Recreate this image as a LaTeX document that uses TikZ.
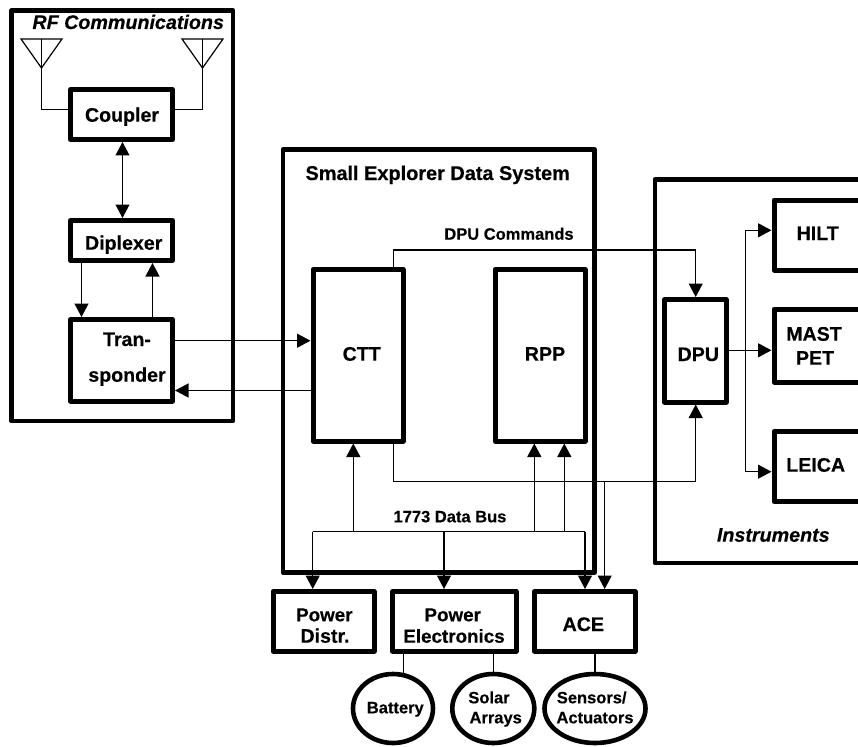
\documentclass[tikz,border=0pt]{standalone}
\usepackage{fontspec}
\setmainfont[BoldFeatures={FakeBold=0.35},BoldItalicFeatures={FakeBold=0.35}]{Liberation Sans}
\usetikzlibrary{arrows.meta,shapes.geometric}
\tikzset{
  thickbox/.style={draw=black,line width=4.6pt,line join=round,rectangle,inner sep=0pt},
  blockbox/.style={draw=black,line width=5pt,line join=round,rectangle,inner sep=0pt},
  round block/.style={draw=black,line width=4.6pt,ellipse,inner sep=0pt,fill=white},
  wire/.style={draw=black,line width=1.2pt},
  arr/.style={wire,-{Triangle[length=13.5pt,width=14pt]}},
  biarr/.style={wire,{Triangle[length=13.5pt,width=14pt]}-{Triangle[length=13.5pt,width=14pt]}},
  lab/.style={anchor=base,inner sep=0pt,font=\bfseries\fontsize{19.6}{22}\selectfont},
  mlab/.style={anchor=base,inner sep=0pt,font=\bfseries\fontsize{18.8}{22}\selectfont},
  tlab/.style={anchor=base,inner sep=0pt,font=\bfseries\fontsize{19.9}{22}\selectfont},
  ilab/.style={anchor=base,inner sep=0pt,font=\bfseries\itshape\fontsize{19.7}{22}\selectfont},
  slab/.style={anchor=base,inner sep=0pt,font=\bfseries\fontsize{16.5}{19}\selectfont}
}
\begin{document}
\begin{tikzpicture}[x=1pt,y=-1pt]
\useasboundingbox (0,0) rectangle (858,746);
\clip (0,0) rectangle (858,746);
% containers
\node[thickbox,minimum width=221.5pt,minimum height=410.5pt] (rf) at (122.25,215.75) {};
\node[thickbox,minimum width=311.5pt,minimum height=423pt] (sds) at (438.75,361) {};
\node[thickbox,minimum width=235pt,minimum height=383.5pt] (inst) at (772.5,371.25) {};
% blocks
\node[blockbox,minimum width=102pt,minimum height=50pt] (coupler) at (121.5,114.5) {};
\node[blockbox,minimum width=102pt,minimum height=40pt] (diplexer) at (121.5,240.5) {};
\node[blockbox,minimum width=102pt,minimum height=81.5pt] (transp) at (121.5,360.25) {};
\node[blockbox,minimum width=90pt,minimum height=171.5pt] (ctt) at (358,355.25) {};
\node[blockbox,minimum width=90pt,minimum height=171.5pt] (rpp) at (540,355.25) {};
\node[blockbox,minimum width=61.5pt,minimum height=102.5pt] (dpu) at (695.25,350.75) {};
\node[blockbox,minimum width=126pt,minimum height=70pt] (hilt) at (837,235) {};
\node[blockbox,minimum width=126pt,minimum height=73pt] (mast) at (837,345.5) {};
\node[blockbox,minimum width=126pt,minimum height=70pt] (leica) at (837,466.5) {};
\node[blockbox,minimum width=101pt,minimum height=59.5pt] (pdist) at (323.5,621.25) {};
\node[blockbox,minimum width=123.5pt,minimum height=59.5pt] (pelec) at (454.25,621.25) {};
\node[blockbox,minimum width=100.5pt,minimum height=59.5pt] (ace) at (584.75,621.25) {};
\node[round block,minimum width=80pt,minimum height=69pt] (battery) at (393,708.5) {};
\node[round block,minimum width=82pt,minimum height=69pt] (solar) at (493.3,708.5) {};
\node[round block,minimum width=101pt,minimum height=69pt] (sensors) at (595,708.5) {};
% routing coordinates
\coordinate (antLa) at (21,39);
\coordinate (antLb) at (62,39);
\coordinate (antLt) at (41.5,68);
\coordinate (antLm) at (41.5,39);
\coordinate (antRa) at (182,39);
\coordinate (antRb) at (223,39);
\coordinate (antRt) at (202.5,68);
\coordinate (antRm) at (202.5,39);
\coordinate (yfeed) at (0,109.5);
\coordinate (xcd) at (122.5,0);
\coordinate (xdn) at (81.5,0);
\coordinate (xup) at (152.5,0);
\coordinate (ytx) at (0,340.7);
\coordinate (yrx) at (0,390.5);
\coordinate (xcmd) at (393.3,0);
\coordinate (xdpu) at (695.7,0);
\coordinate (ycmd) at (0,250);
\coordinate (yret) at (0,481.7);
\coordinate (xace) at (604.7,0);
\coordinate (ybus) at (0,531.7);
\coordinate (xb1) at (312.7,0);
\coordinate (xb2) at (353.3,0);
\coordinate (xb3) at (444,0);
\coordinate (xb4) at (534.3,0);
\coordinate (xb5) at (564.3,0);
\coordinate (xb6) at (585,0);
\coordinate (xbr) at (745.7,0);
\coordinate (yh) at (0,230.3);
\coordinate (ym) at (0,350.3);
\coordinate (yl) at (0,471.7);
% antennas
\draw[wire,line join=miter] (antLa) -- (antLb) -- (antLt) -- cycle;
\draw[wire] (antLm) -- (antLt);
\draw[wire,line join=miter] (antRa) -- (antRb) -- (antRt) -- cycle;
\draw[wire] (antRm) -- (antRt);
\draw[wire] (antLt) |- (coupler.west |- yfeed);
\draw[wire] (antRt) |- (coupler.east |- yfeed);
% RF
\draw[biarr] (coupler.south -| xcd) -- (diplexer.north -| xcd);
\draw[arr] (diplexer.south -| xdn) -- (transp.north -| xdn);
\draw[arr] (transp.north -| xup) -- (diplexer.south -| xup);
\draw[arr] (transp.east |- ytx) -- (ctt.west |- ytx);
\draw[arr] (ctt.west |- yrx) -- (transp.east |- yrx);
% commands and return
\draw[arr] (ctt.north -| xcmd) |- (xdpu |- ycmd) -- (dpu.north -| xdpu);
\draw[arr] (ctt.south -| xcmd) |- (xdpu |- yret) -- (dpu.south -| xdpu);
\draw[arr] (xace |- yret) -- (ace.north -| xace);
% bus
\draw[wire] (xb1 |- ybus) -- (xb6 |- ybus);
\draw[arr] (xb1 |- ybus) -- (pdist.north -| xb1);
\draw[arr] (xb2 |- ybus) -- (ctt.south -| xb2);
\draw[arr] (xb3 |- ybus) -- (pelec.north -| xb3);
\draw[arr] (xb4 |- ybus) -- (rpp.south -| xb4);
\draw[arr] (xb5 |- ybus) -- (rpp.south -| xb5);
\draw[arr] (xb6 |- ybus) -- (ace.north -| xb6);
% instruments
\draw[arr] (dpu.east |- ym) -- (mast.west |- ym);
\draw[arr] (xbr |- ym) |- (hilt.west |- yh);
\draw[arr] (xbr |- ym) |- (leica.west |- yl);
% lower stubs
\draw[wire] (pelec.south -| battery.73) -- (battery.73);
\draw[wire] (pelec.south -| solar.north) -- (solar.north);
\draw[wire] (ace.south -| sensors.north) -- (sensors.north);
% labels
\node[ilab] (trf) at (128.2,29) {RF Communications};
\node[lab] (tcoupler) at (122,121.7) {Coupler};
\node[lab] (tdiplexer) at (123.7,249.7) {Diplexer};
\node[lab] (ttran) at (127,346) {Tran-};
\node[lab] (tsponder) at (127,381.7) {sponder};
\node[tlab] (tsds) at (437.7,180) {Small Explorer Data System};
\node[slab] (tcmd) at (509,239.7) {DPU Commands};
\node[lab] (tctt) at (361.7,360.7) {CTT};
\node[lab] (trpp) at (545,360.7) {RPP};
\node[slab] (tbus) at (450,522.3) {1773 Data Bus};
\node[lab] (tdpu) at (698.3,361) {DPU};
\node[lab] (thilt) at (817.7,240) {HILT};
\node[lab] (tmast) at (814,340.7) {MAST};
\node[lab] (tpet) at (815,364.7) {PET};
\node[lab] (tleica) at (815.7,471.7) {LEICA};
\node[ilab] (tinst) at (773.3,541.7) {Instruments};
\node[mlab] (tpow) at (324.3,621.3) {Power};
\node[lab] (tdistr) at (325,642.7) {Distr.};
\node[mlab] (tpow2) at (452.7,621.3) {Power};
\node[mlab] (telec) at (454,642.7) {Electronics};
\node[lab] (tace) at (583.3,631) {ACE};
\node[slab] (tbatt) at (395.3,713.3) {Battery};
\node[slab] (tsolar) at (489,703.3) {Solar};
\node[slab] (tarrays) at (495.7,723.3) {Arrays};
\node[slab] (tsens) at (591.7,703.3) {Sensors/};
\node[slab] (tact) at (595,723.3) {Actuators};
\end{tikzpicture}
\end{document}
